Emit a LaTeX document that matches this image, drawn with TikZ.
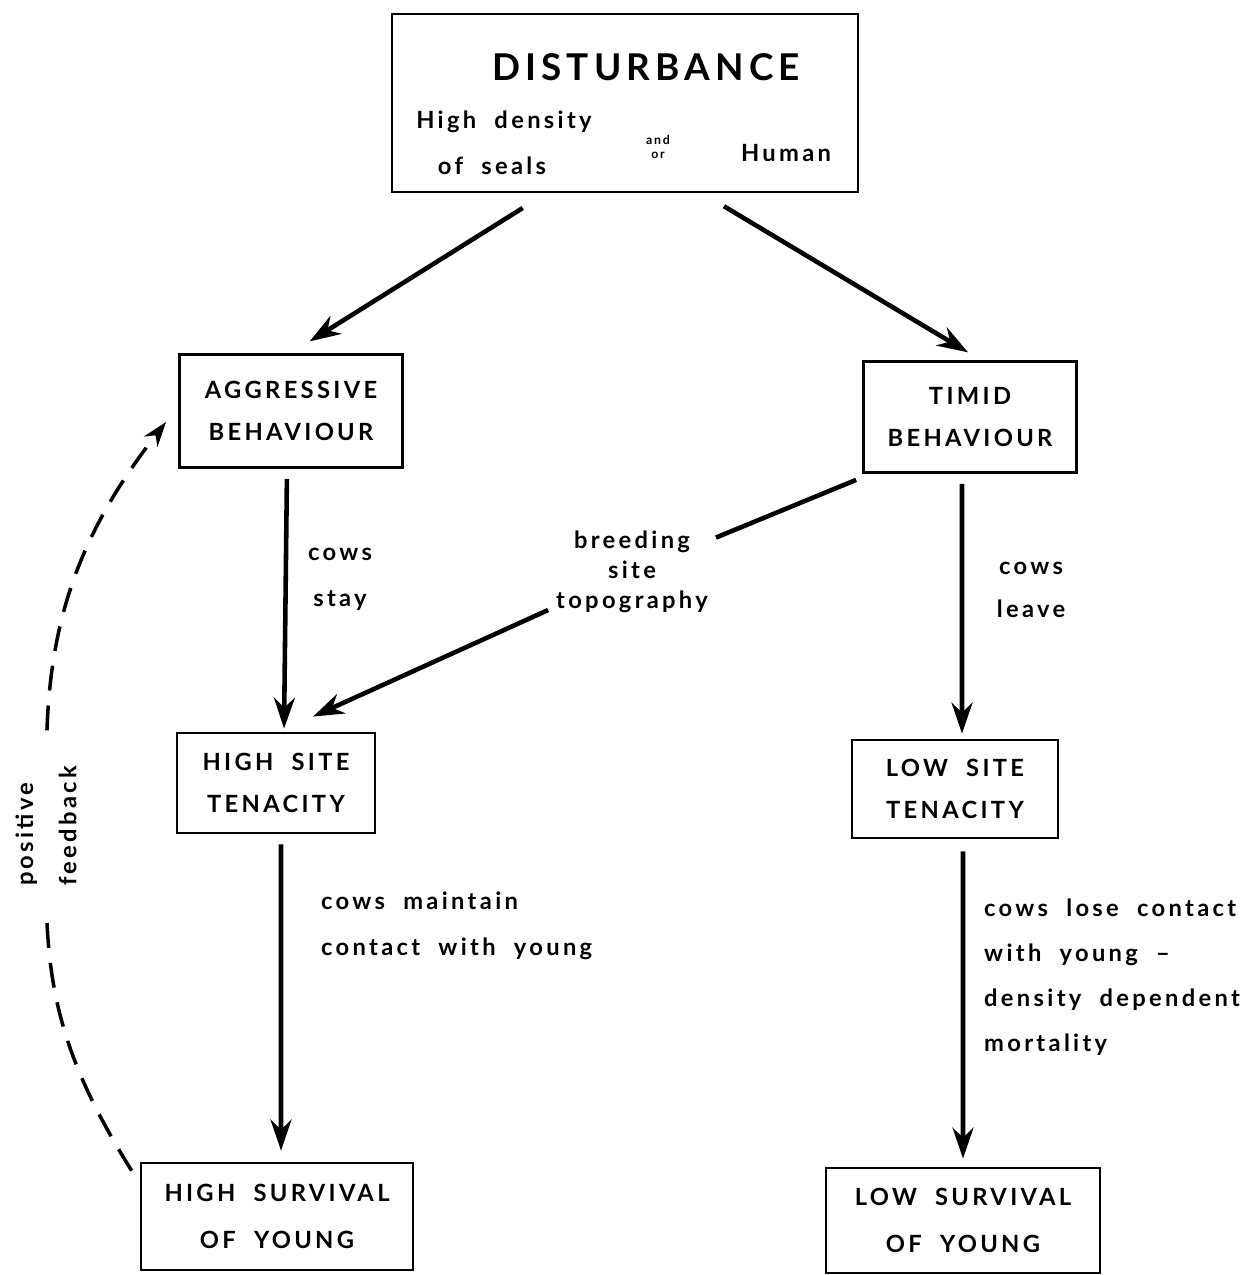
\documentclass[tikz,border=0pt]{standalone}
\usepackage{fontspec}
\setmainfont{Lato}[UprightFont={* Bold},LetterSpace=14,WordSpace=2]
\usetikzlibrary{arrows.meta}

\begin{document}
\begin{tikzpicture}[>={Stealth[length=0.62cm,width=0.42cm]},line width=2.6pt,
                    box node/.style={draw,line width=1.6pt,align=center,font=\fontsize{13.5}{24}\selectfont},
                    label node/.style={font=\fontsize{13.5}{26}\selectfont}]

  \useasboundingbox (0,0) rectangle (25.06,-25.5);

  % disturbance box
  \node[box node,minimum width=9.32cm,minimum height=3.56cm] (dist) at (12.5,-2.06) {};
  \node[font=\fontsize{21}{21}\selectfont] (title) at ([shift={(0.42,0.72)}]dist.center) {DISTURBANCE};
  \node[label node] (density) at ([shift={(-2.42,-0.38)}]dist.center) {High density};
  \node[label node] (seals) at ([shift={(-2.66,-1.26)}]dist.center) {of seals};
  \node[align=center,font=\fontsize{7}{8}\selectfont] (andor) at ([shift={(0.66,-0.88)}]dist.center) {and\\or};
  \node[label node] (human) at ([shift={(3.22,-1.0)}]dist.center) {Human};

  \node[box node,minimum width=4.46cm,minimum height=2.26cm] (aggr) at (5.82,-8.22) {AGGRESSIVE\\BEHAVIOUR};
  \node[box node,minimum width=4.26cm,minimum height=2.22cm] (timid) at (19.4,-8.34) {TIMID\\BEHAVIOUR};
  \node[box node,minimum width=3.96cm,minimum height=2.0cm] (hisite) at (5.52,-15.66) {HIGH SITE\\TENACITY};
  \node[box node,minimum width=4.12cm,minimum height=1.96cm] (losite) at (19.1,-15.78) {LOW SITE\\TENACITY};
  \node[box node,minimum width=5.44cm,minimum height=2.14cm,font=\fontsize{13.5}{26.5}\selectfont] (hisurv) at (5.54,-24.33) {HIGH SURVIVAL\\OF YOUNG};
  \node[box node,minimum width=5.48cm,minimum height=2.1cm,font=\fontsize{13.5}{26.5}\selectfont] (losurv) at (19.26,-24.41) {LOW SURVIVAL\\OF YOUNG};

  % labels
  \node[label node,align=center] (stay) at (6.8,-11.58) {cows\\stay};
  \node[label node,align=center,font=\fontsize{13.5}{24.5}\selectfont] (leave) at (20.62,-11.8) {cows\\leave};
  \node[label node,align=left,anchor=west] (maintain) at (6.26,-18.52) {cows maintain\\contact with young};
  \node[label node,align=left,anchor=west,font=\fontsize{13.5}{25.5}\selectfont] (lose) at (19.52,-19.54) {cows lose contact\\with young --\\density dependent\\mortality};
  \node[label node,align=center,font=\fontsize{13.5}{17}\selectfont] (topo) at (12.64,-11.44) {breeding\\site\\topography};
  \node[label node,align=left,rotate=90,font=\fontsize{13.5}{24.5}\selectfont] (fb) at (0.92,-16.52) {positive\\feedback};

  \path[->]
    ([xshift=-1.58cm]dist.south) edge[shorten <=0.55cm,shorten >=0.44cm] (aggr.north)
    ([xshift=1.55cm]dist.south) edge[shorten <=0.5cm,shorten >=0.3cm] ([xshift=0.22cm]timid.north)
    ([xshift=-0.08cm]aggr.south) edge[shorten <=0.2cm,shorten >=0.06cm] ([xshift=0.16cm]hisite.north)
    ([xshift=-0.16cm]timid.south) edge[shorten <=0.2cm,shorten >=0.1cm] ([xshift=0.14cm]losite.north)
    ([xshift=0.1cm]hisite.south) edge[shorten <=0.2cm,shorten >=0.22cm] ([xshift=0.08cm]hisurv.north)
    ([xshift=0.16cm]losite.south) edge[shorten <=0.24cm,shorten >=0.16cm] (losurv.north);

  \draw ([shift={(-0.12,-0.12)}]timid.south west) -- (topo);
  \draw[->] (topo) -- ([shift={(0.74,0.3)}]hisite.north);

  % feedback loop
  \draw[dashed,dash pattern=on 0.5cm off 0.3cm,line width=2pt,shorten >=0.45cm]
    ([shift={(-0.16,-0.18)}]hisurv.north west) to[out=122,in=-88] (fb.west);
  \draw[dashed,dash pattern=on 0.5cm off 0.3cm,line width=2pt,shorten <=0.55cm,
        ->,>={Stealth[length=0.5cm,width=0.34cm]}]
    (fb.east) to[out=88,in=-128] ([shift={(-0.24,-0.22)}]aggr.west);
\end{tikzpicture}
\end{document}
